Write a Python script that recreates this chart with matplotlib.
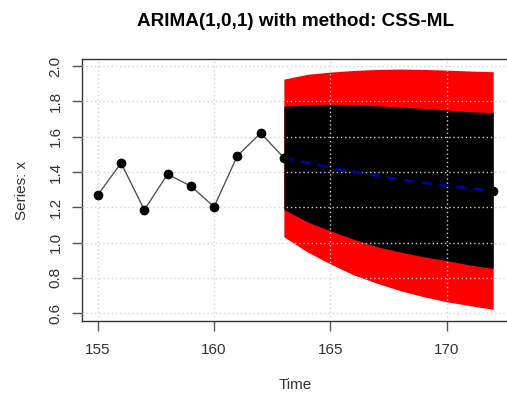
import matplotlib
matplotlib.use('Agg')
import matplotlib.pyplot as plt

plt.rcParams['font.family'] = ['Liberation Sans', 'DejaVu Sans']

# serie observada
anos = [155, 156, 157, 158, 159, 160, 161, 162, 163]
serie = [1.27, 1.451, 1.185, 1.388, 1.32, 1.203, 1.492, 1.62, 1.481]

# previsao ARIMA(1,0,1)
t_prev = [163, 164, 165, 166, 167, 168, 169, 170, 171, 172]
media = [1.481, 1.453, 1.424, 1.402, 1.379, 1.358, 1.339, 1.322, 1.307, 1.292]
sup95 = [1.926, 1.953, 1.966, 1.975, 1.981, 1.983, 1.981, 1.977, 1.972, 1.968]
sup80 = [1.773, 1.779, 1.783, 1.781, 1.775, 1.768, 1.760, 1.751, 1.741, 1.736]
inf80 = [1.188, 1.118, 1.067, 1.019, 0.977, 0.947, 0.920, 0.898, 0.873, 0.854]
inf95 = [1.033, 0.948, 0.879, 0.817, 0.770, 0.728, 0.694, 0.665, 0.643, 0.622]

xticks = [155, 160, 165, 170]
yticks = [0.6, 0.8, 1.0, 1.2, 1.4, 1.6, 1.8, 2.0]

fig = plt.figure(figsize=(5.07, 3.96), dpi=100)
# o eixo passa um pouco da borda direita, como no original
ax = fig.add_axes([82 / 507, 1 - 321 / 396, (509 - 82) / 507, (321 - 59) / 396])

# faixas de previsao
ax.fill_between(t_prev, inf95, sup95, color='red', linewidth=0, zorder=1)
ax.fill_between(t_prev, inf80, sup80, color='black', linewidth=0, zorder=2)

# grade pontilhada por cima
for x in xticks:
    ax.axvline(x, color='#d3d3d3', linestyle=(0, (1, 2)), linewidth=1, zorder=3)
for y in yticks:
    ax.axhline(y, color='#d3d3d3', linestyle=(0, (1, 2)), linewidth=1, zorder=3)

ax.plot(anos, serie, color='#555555', linewidth=1, zorder=4)
ax.plot(anos, serie, 'o', color='black', markersize=6, zorder=5)
ax.plot(t_prev, media, color='#0000aa', linestyle=(0, (4, 3)), linewidth=1.8, zorder=4)
ax.plot(t_prev[-1], media[-1], 'o', color='black', markersize=6, zorder=5)

ax.set_xlim(154.32, 172.68)
ax.set_ylim(0.556, 2.04)
ax.set_xticks(xticks)
ax.set_yticks(yticks)
ax.set_yticklabels([f'{v:.1f}' for v in yticks], rotation=90, va='center')
ax.tick_params(length=7, width=1, color='#555555', labelsize=11, labelcolor='#333333')
ax.tick_params(axis='x', pad=9)
ax.tick_params(axis='y', pad=7)

for s in ax.spines.values():
    s.set_color('#333333')
    s.set_linewidth(1)

ax.set_xlabel('Time', fontsize=11, color='#333333', labelpad=15)
ax.set_ylabel('Series: x', fontsize=11, color='#333333', labelpad=14)
ax.set_title('ARIMA(1,0,1) with method: CSS-ML', fontsize=13.6, fontweight='bold', pad=24)

fig.savefig('out.png', dpi=100)
